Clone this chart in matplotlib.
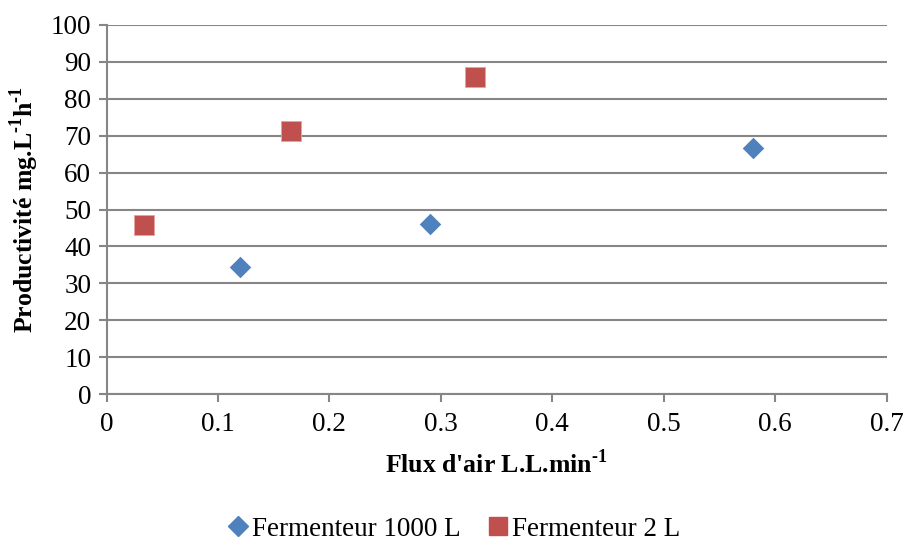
import matplotlib
matplotlib.use("Agg")
import matplotlib.pyplot as plt
from matplotlib.lines import Line2D

# Data
x_1000 = [0.12, 0.29, 0.58]
y_1000 = [34.3, 46.2, 66.8]
x_2 = [0.034, 0.166, 0.331]
y_2 = [45.7, 71.3, 86.0]
series_labels = ["Fermenteur 1000 L", "Fermenteur 2 L"]
xticks = [0, 0.1, 0.2, 0.3, 0.4, 0.5, 0.6, 0.7]
xtick_labels = ["0", "0.1", "0.2", "0.3", "0.4", "0.5", "0.6", "0.7"]
yticks = [0, 10, 20, 30, 40, 50, 60, 70, 80, 90, 100]

plt.rcParams['font.family'] = ['Liberation Serif', 'DejaVu Serif']
plt.rcParams['mathtext.fontset'] = 'custom'
plt.rcParams['mathtext.rm'] = 'Liberation Serif:bold'
plt.rcParams['mathtext.bf'] = 'Liberation Serif:bold'
grid_c = '#868686'

fig = plt.figure(figsize=(9.05, 5.44), dpi=100)
ax = fig.add_axes([106.5/905, 1-394/544, (886.5-106.5)/905, (394-25)/544])

ax.scatter(x_1000, y_1000, marker='D', s=120, color='#4F81BD', zorder=3,
           label=series_labels[0], linewidths=0)
ax.scatter(x_2, y_2, marker='s', s=190, color='#C0504D', zorder=3,
           label=series_labels[1], linewidths=0.6, edgecolors='#E8A0A0')

ax.set_xlim(0, 0.7)
ax.set_ylim(0, 100)
ax.set_xticks(xticks)
ax.set_xticklabels(xtick_labels)
ax.set_yticks(yticks)
ax.yaxis.grid(True, color=grid_c, linewidth=1.5)
ax.set_axisbelow(True)
for s in ['top', 'right']:
    ax.spines[s].set_visible(False)
for s in ['left', 'bottom']:
    ax.spines[s].set_color(grid_c)
    ax.spines[s].set_linewidth(1.5)
ax.tick_params(axis='both', colors=grid_c, width=1.5, length=6, direction='out',
               labelsize=19.5, labelcolor='black')
ax.tick_params(axis='x', pad=7)
ax.tick_params(axis='y', pad=5)

ax.set_xlabel("Flux d'air L.L.min$^{\\text{-1}}$", fontsize=18.5, fontweight='bold', labelpad=9)
ax.set_ylabel("Productivité mg.L$^{\\text{-1}}$h$^{\\text{-1}}$", fontsize=18.5, fontweight='bold', labelpad=7)

handles = [
    Line2D([], [], marker='D', color='#4F81BD', linestyle='none', markersize=10),
    Line2D([], [], marker='s', color='#C0504D', linestyle='none', markersize=13),
]
fig.legend(handles, series_labels, loc='center', bbox_to_anchor=(0.5, 1-529/544),
           ncol=2, frameon=False, fontsize=19.5, handletextpad=0.0, columnspacing=0.9,
           handlelength=1.0)

fig.savefig("out.png", dpi=100)
